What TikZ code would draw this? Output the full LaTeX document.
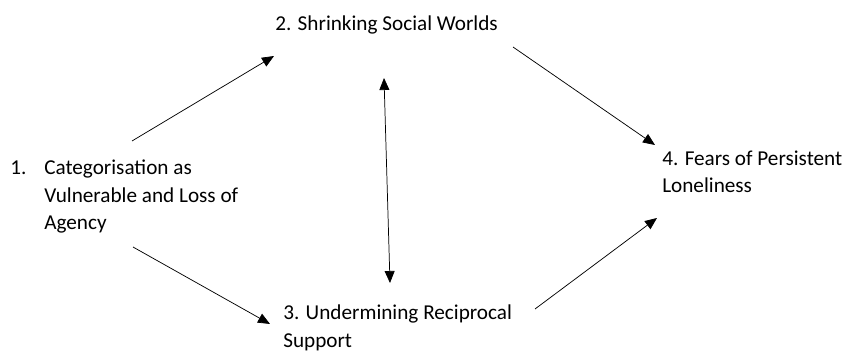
\documentclass[tikz,border=0pt]{standalone}
\usepackage{fontspec}
\setmainfont{Carlito}
\usetikzlibrary{arrows.meta}
\begin{document}
\begin{tikzpicture}[x=0.75pt,y=-0.75pt,
  theme/.style={anchor=base west,inner sep=0pt,align=left,
    font=\fontsize{15.9}{20.7}\selectfont},
  tip/.tip={Triangle[length=9pt,width=7.5pt]},
  link/.style={-tip,line width=0.55pt}]
\useasboundingbox (0,0) rectangle (845,352);
%% themes (anchored at the baseline of their last line)
\node [theme] (num) at (10,175) {1.};
\node [theme] (cat) at (44,230) {Categorisation as\\Vulnerable and Loss of\\Agency};
\node [theme] (shrink) at (275,31) {2. Shrinking Social Worlds};
\node [theme] (recip) at (283,347) {3. Undermining Reciprocal\\Support};
\node [theme] (fears) at (662,193) {4. Fears of Persistent\\Loneliness};
%% arrow ends
\coordinate (catUp) at (132,141);
\coordinate (catDown) at (133,247);
\coordinate (shrinkIn) at (274,56);
\coordinate (shrinkOut) at (513,47);
\coordinate (shrinkMid) at (384,78);
\coordinate (recipIn) at (270,324);
\coordinate (recipOut) at (535,309);
\coordinate (recipMid) at (390,283);
\coordinate (fearsTop) at (655,145);
\coordinate (fearsBot) at (657,218);
\draw [link] (catUp) -- (shrinkIn);
\draw [link] (catDown) -- (recipIn);
\draw [link] (shrinkOut) -- (fearsTop);
\draw [link] (recipOut) -- (fearsBot);
\draw [link,tip-tip] (shrinkMid) -- (recipMid);
\end{tikzpicture}
\end{document}
